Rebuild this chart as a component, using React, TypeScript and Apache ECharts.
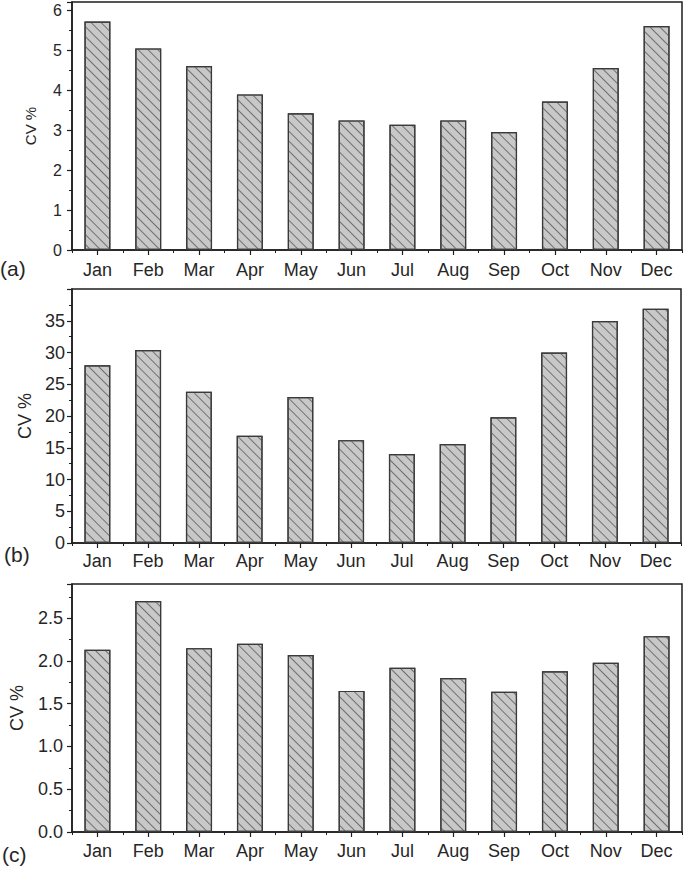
import React, { useEffect, useRef } from "react";
import * as echarts from "echarts";

const months = ["Jan", "Feb", "Mar", "Apr", "May", "Jun", "Jul", "Aug", "Sep", "Oct", "Nov", "Dec"];
const cvA = [5.71, 5.04, 4.6, 3.89, 3.42, 3.24, 3.13, 3.24, 2.95, 3.71, 4.55, 5.6];
const cvB = [28.0, 30.4, 23.8, 16.9, 23.0, 16.2, 14.0, 15.6, 19.8, 30.0, 34.95, 36.9];
const cvC = [2.13, 2.7, 2.15, 2.2, 2.07, 1.65, 1.92, 1.8, 1.64, 1.88, 1.98, 2.29];
const panelLabels = ["(a)", "(b)", "(c)"];
const yName = "CV %";

const FONT = "'Liberation Sans', Arial, Helvetica, sans-serif";
const TEXT = "#262626";
const AXIS = "#1e1e1e";

const panels = [
  { data: cvA, max: 6.2, interval: 1, dec: 0, grid: { left: 72, top: 2, width: 610, height: 248 }, yFont: 16, yMargin: 10, xMargin: 11, nameFont: 15, nameGap: 34, label: { x: 0, y: 270 } },
  { data: cvB, max: 40, interval: 5, dec: 0, grid: { left: 72, top: 289, width: 609, height: 254 }, yFont: 18, yMargin: 7, xMargin: 9, nameFont: 18, nameGap: 38, label: { x: 4, y: 556 } },
  { data: cvC, max: 2.9, interval: 0.5, dec: 1, grid: { left: 72, top: 584, width: 610, height: 248 }, yFont: 18, yMargin: 9, xMargin: 10, nameFont: 18, nameGap: 46, label: { x: 2, y: 856 } },
];

export default function App() {
  const ref = useRef<HTMLDivElement>(null);
  useEffect(() => {
    if (!ref.current) return;
    const chart = echarts.init(ref.current, undefined, { renderer: "svg" });
    const grid: any[] = [];
    const xAxis: any[] = [];
    const yAxis: any[] = [];
    const series: any[] = [];
    const graphic: any[] = [];
    panels.forEach((p, i) => {
      grid.push({ ...p.grid, show: true, borderColor: AXIS, borderWidth: 1.5, backgroundColor: "transparent" });
      xAxis.push({
        type: "category",
        gridIndex: i,
        position: "bottom",
        data: months,
        boundaryGap: true,
        axisLine: { show: true, lineStyle: { color: AXIS, width: 1.5 } },
        axisTick: { show: true, alignWithLabel: true, inside: false, length: 5, lineStyle: { color: AXIS, width: 1.2 } },
        axisLabel: { show: true, fontSize: 18, color: TEXT, fontFamily: FONT, margin: p.xMargin, interval: 0 },
        splitLine: { show: false },
      });
      xAxis.push({
        type: "category",
        gridIndex: i,
        position: "bottom",
        data: months,
        boundaryGap: true,
        axisLine: { show: false },
        axisTick: { show: true, alignWithLabel: false, inside: false, length: 3, lineStyle: { color: AXIS, width: 1 }, interval: 0 },
        axisLabel: { show: false },
        splitLine: { show: false },
      });
      yAxis.push({
        type: "value",
        gridIndex: i,
        min: 0,
        max: p.max,
        interval: p.interval,
        name: yName,
        nameLocation: "middle",
        nameRotate: 90,
        nameGap: p.nameGap,
        nameTextStyle: { fontSize: p.nameFont, color: TEXT, fontFamily: FONT },
        axisLine: { show: true, lineStyle: { color: AXIS, width: 1.5 } },
        axisTick: { show: true, inside: false, length: 5, lineStyle: { color: AXIS, width: 1.2 } },
        minorTick: { show: true, splitNumber: 2, length: 3, lineStyle: { color: AXIS, width: 1 } },
        axisLabel: {
          fontSize: p.yFont,
          color: TEXT,
          fontFamily: FONT,
          margin: p.yMargin,
          showMaxLabel: false,
          formatter: (v: number) => v.toFixed(p.dec),
        },
        splitLine: { show: false },
        minorSplitLine: { show: false },
      });
      series.push({
        type: "bar",
        xAxisIndex: i * 2,
        yAxisIndex: i,
        data: p.data,
        barWidth: "51%",
        itemStyle: {
          color: "#c8c8c8",
          borderColor: "#3a3a3a",
          borderWidth: 1.2,
          decal: {
            symbol: "rect",
            symbolSize: 1,
            dashArrayX: [1, 0],
            dashArrayY: [1, 6],
            rotation: Math.PI / 4,
            color: "#707070",
          },
        },
      });
      graphic.push({
        type: "text",
        left: p.label.x,
        top: p.label.y - 12,
        style: { text: panelLabels[i], fontSize: 21, fill: TEXT, fontFamily: FONT },
      });
    });
    chart.setOption({
      animation: false,
      backgroundColor: "#ffffff",
      grid,
      xAxis,
      yAxis,
      series,
      graphic,
    });
    return () => chart.dispose();
  }, []);
  return <div ref={ref} style={{ position: "absolute", left: 0, top: 0, width: 685, height: 870 }} />;
}
